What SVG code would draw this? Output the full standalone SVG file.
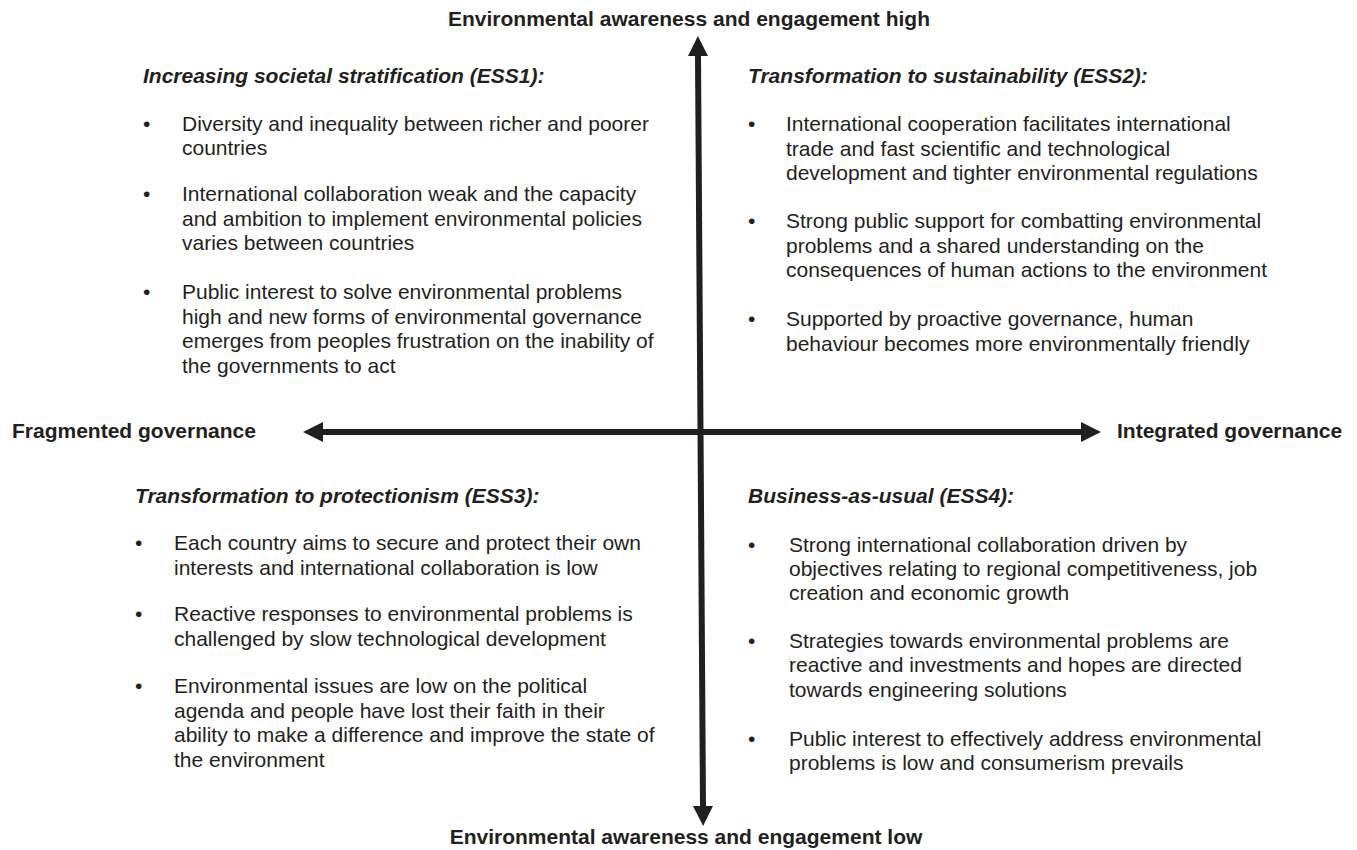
<svg xmlns="http://www.w3.org/2000/svg" width="1357" height="850" viewBox="0 0 1357 850">
<defs>
<marker id="ah" viewBox="0 0 20 20" refX="1" refY="10" markerWidth="20" markerHeight="20" markerUnits="userSpaceOnUse" orient="auto-start-reverse">
<path d="M0,0 L20,10 L0,20 z" fill="#231f20"/>
</marker>
<style>
text{font-family:"Liberation Sans",Arial,sans-serif;font-size:21px;fill:#231f20}
.ax{font-weight:bold}
.h{font-weight:bold;font-style:italic}
.ln{stroke:#231f20;stroke-width:6;fill:none}
</style>
</defs>
<rect width="1357" height="850" fill="#ffffff"/>
<g id="connectors">
<line class="ln" x1="698" y1="55" x2="703" y2="807" marker-start="url(#ah)" marker-end="url(#ah)"/>
<line class="ln" x1="322" y1="432" x2="1082" y2="432" marker-start="url(#ah)" marker-end="url(#ah)"/>
</g>
<g id="axis-top"><text class="ax" x="689" y="26" text-anchor="middle">Environmental awareness and engagement high</text></g>
<g id="axis-bottom"><text class="ax" x="686" y="844" text-anchor="middle">Environmental awareness and engagement low</text></g>
<g id="axis-left"><text class="ax" x="12" y="438">Fragmented governance</text></g>
<g id="axis-right"><text class="ax" x="1117" y="438">Integrated governance</text></g>
<g id="ess1">
<text class="h" x="143" y="83">Increasing societal stratification (ESS1):</text>
<text x="143" y="131">•</text>
<text x="182" y="131">Diversity and inequality between richer and poorer</text>
<text x="182" y="155">countries</text>
<text x="143" y="201">•</text>
<text x="182" y="201">International collaboration weak and the capacity</text>
<text x="182" y="226">and ambition to implement environmental policies</text>
<text x="182" y="250">varies between countries</text>
<text x="143" y="299">•</text>
<text x="182" y="299">Public interest to solve environmental problems</text>
<text x="182" y="324">high and new forms of environmental governance</text>
<text x="182" y="348">emerges from peoples frustration on the inability of</text>
<text x="182" y="373">the governments to act</text>
</g>
<g id="ess2">
<text class="h" x="748" y="83">Transformation to sustainability (ESS2):</text>
<text x="748" y="131">•</text>
<text x="786" y="131">International cooperation facilitates international</text>
<text x="786" y="156">trade and fast scientific and technological</text>
<text x="786" y="180">development and tighter environmental regulations</text>
<text x="748" y="228">•</text>
<text x="786" y="228">Strong public support for combatting environmental</text>
<text x="786" y="253">problems and a shared understanding on the</text>
<text x="786" y="277">consequences of human actions to the environment</text>
<text x="748" y="326">•</text>
<text x="786" y="326">Supported by proactive governance, human</text>
<text x="786" y="351">behaviour becomes more environmentally friendly</text>
</g>
<g id="ess3">
<text class="h" x="135" y="503">Transformation to protectionism (ESS3):</text>
<text x="135" y="550">•</text>
<text x="174" y="550">Each country aims to secure and protect their own</text>
<text x="174" y="575">interests and international collaboration is low</text>
<text x="135" y="621">•</text>
<text x="174" y="621">Reactive responses to environmental problems is</text>
<text x="174" y="646">challenged by slow technological development</text>
<text x="135" y="693">•</text>
<text x="174" y="693">Environmental issues are low on the political</text>
<text x="174" y="718">agenda and people have lost their faith in their</text>
<text x="174" y="742">ability to make a difference and improve the state of</text>
<text x="174" y="767">the environment</text>
</g>
<g id="ess4">
<text class="h" x="748" y="503">Business-as-usual (ESS4):</text>
<text x="748" y="552">•</text>
<text x="789" y="552">Strong international collaboration driven by</text>
<text x="789" y="576">objectives relating to regional competitiveness, job</text>
<text x="789" y="600">creation and economic growth</text>
<text x="748" y="648">•</text>
<text x="789" y="648">Strategies towards environmental problems are</text>
<text x="789" y="672">reactive and investments and hopes are directed</text>
<text x="789" y="697">towards engineering solutions</text>
<text x="748" y="746">•</text>
<text x="789" y="746">Public interest to effectively address environmental</text>
<text x="789" y="770">problems is low and consumerism prevails</text>
</g>
</svg>
